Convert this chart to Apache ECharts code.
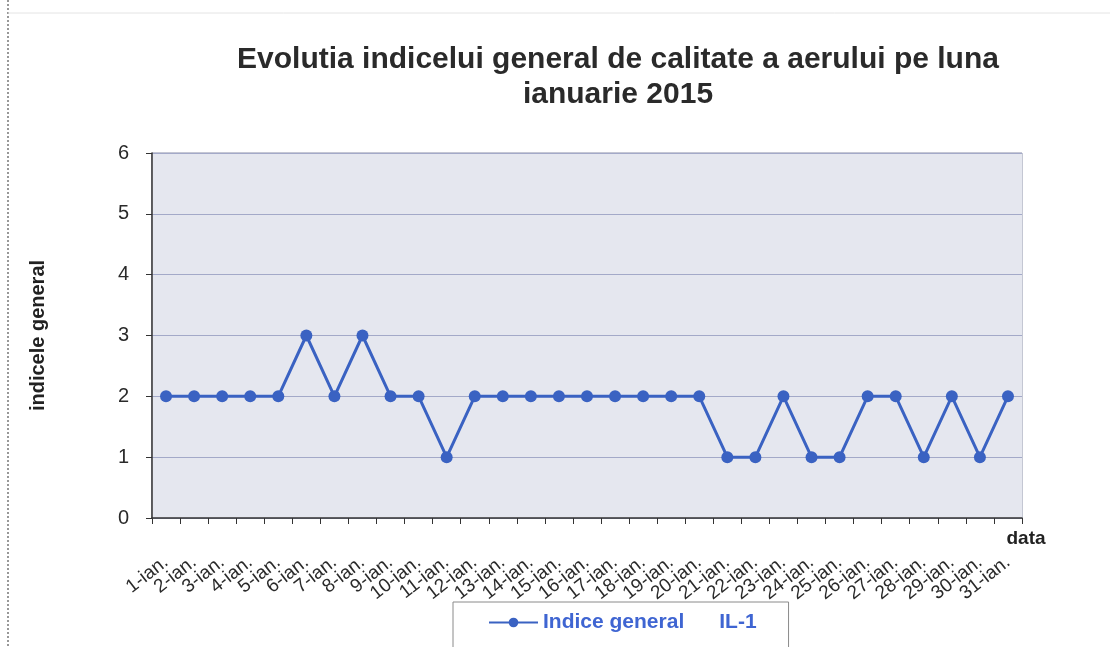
<!DOCTYPE html>
<html>
<head>
<meta charset="utf-8">
<style>
  html, body { margin: 0; padding: 0; background: #fff; }
  #chart { width: 1110px; height: 647px; }
</style>
<script src="https://cdn.jsdelivr.net/npm/echarts@6/dist/echarts.min.js"></script>
</head>
<body>
<div id="chart"></div>
<script>
const days = []
for (let d = 1; d <= 31; d++) days.push(d + '-ian.')

const indiceGeneral = [2, 2, 2, 2, 2, 3, 2, 3, 2, 2, 1, 2, 2, 2, 2, 2, 2, 2, 2, 2, 1, 1, 2, 1, 1, 2, 2, 1, 2, 1, 2]

const yTicks = [0, 1, 2, 3, 4, 5, 6]

const lineColor = '#3a62c2'
const font = 'Liberation Sans, Arial'

const chart = echarts.init(document.getElementById('chart'))
chart.setOption({
  animation: false,
  backgroundColor: '#fff',
  title: {
    text: 'Evolutia indicelui general de calitate a aerului pe luna\nianuarie 2015',
    left: 613,
    top: 37,
    textAlign: 'center',
    textStyle: {
      fontFamily: font,
      fontSize: 30,
      fontWeight: 'bold',
      color: '#2a2a2a',
      lineHeight: 35
    }
  },
  legend: {
    top: 602,
    left: 453,
    padding: [10, 32, 30, 35],
    itemWidth: 49,
    itemHeight: 12,
    borderColor: '#8a8a8a',
    borderWidth: 1,
    backgroundColor: '#fff',
    textStyle: {
      fontFamily: font,
      fontSize: 21,
      fontWeight: 'bold',
      color: '#3f65d2'
    },
    data: ['Indice general      IL-1']
  },
  grid: {
    left: 152,
    right: 88,
    top: 153,
    bottom: 129
  },
  xAxis: {
    type: 'category',
    data: days,
    boundaryGap: true,
    name: 'data',
    nameLocation: 'end',
    nameGap: 4,
    nameTextStyle: {
      fontFamily: font,
      fontSize: 19,
      fontWeight: 'bold',
      color: '#222',
      align: 'center',
      verticalAlign: 'top',
      padding: [11, 0, 0, 0]
    },
    axisLine: { lineStyle: { color: '#333', width: 1.5 } },
    axisTick: { show: true, length: 6, lineStyle: { color: '#333' } },
    axisLabel: {
      interval: 0,
      rotate: 38,
      margin: 42,
      fontFamily: font,
      fontSize: 19,
      color: '#2a2a2a'
    }
  },
  yAxis: {
    type: 'value',
    min: yTicks[0],
    max: yTicks[yTicks.length - 1],
    interval: 1,
    name: 'indicele general',
    nameLocation: 'middle',
    nameGap: 104,
    nameTextStyle: {
      fontFamily: font,
      fontSize: 20,
      fontWeight: 'bold',
      color: '#222'
    },
    axisLine: { show: true, lineStyle: { color: '#333', width: 1.5 } },
    axisTick: { show: true, length: 6, lineStyle: { color: '#333' } },
    axisLabel: {
      margin: 23,
      fontFamily: font,
      fontSize: 20,
      color: '#2a2a2a'
    },
    splitLine: { lineStyle: { color: '#a3a9c8', width: 1 } },
    splitArea: { show: true, areaStyle: { color: ['#e5e7ef', '#e5e7ef'] } }
  },
  graphic: [
    {
      type: 'line',
      shape: { x1: 8, y1: 0, x2: 8, y2: 647 },
      style: { stroke: '#777', lineWidth: 1.5, lineDash: [2, 2] }
    },
    {
      type: 'line',
      shape: { x1: 8, y1: 13, x2: 1110, y2: 13 },
      style: { stroke: '#e4e4e4', lineWidth: 1 }
    },
    {
      type: 'rect',
      shape: { x: 152, y: 153, width: 870, height: 365 },
      style: { fill: 'none', stroke: '#8a8fa8', lineWidth: 1 },
      z: 0
    }
  ],
  series: [{
    name: 'Indice general      IL-1',
    type: 'line',
    data: indiceGeneral,
    symbol: 'circle',
    symbolSize: 12,
    lineStyle: { color: lineColor, width: 3 },
    itemStyle: { color: lineColor }
  }]
})
</script>
</body>
</html>
